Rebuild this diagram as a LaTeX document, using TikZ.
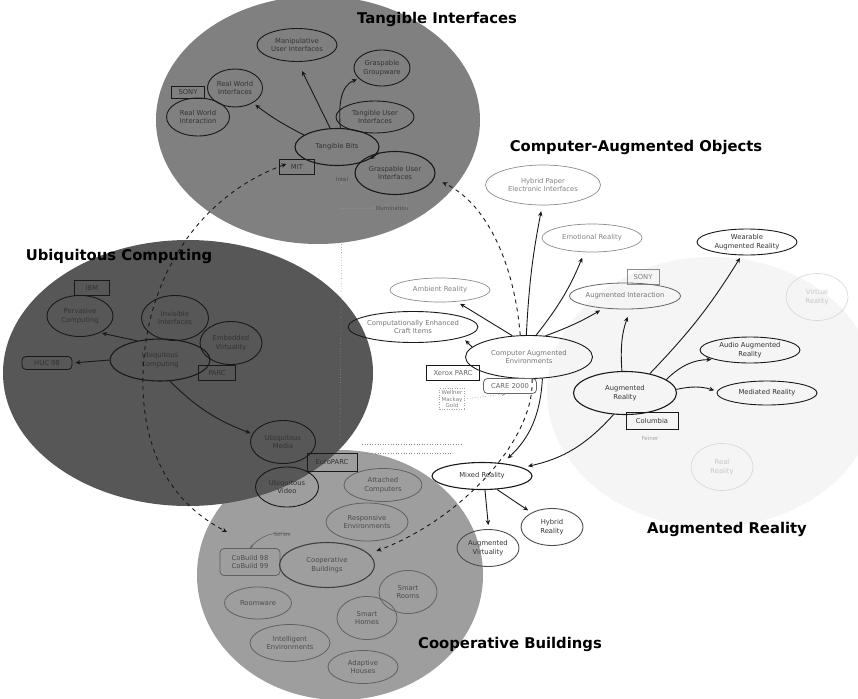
\documentclass[tikz,border=0pt]{standalone}
\usepackage{fontspec}
\setmainfont{DejaVu Sans}
\usetikzlibrary{shapes.geometric,arrows.meta}

\begin{document}
\begin{tikzpicture}[x=1pt,y=-1pt,
  region/.style={ellipse, draw=none, inner sep=0pt},
  heading/.style={font=\fontsize{14.8}{16}\selectfont\bfseries, text=black, inner sep=0pt},
  oval/.style={ellipse, draw=black!90, line width=0.9pt, inner sep=0pt, align=center,
    font=\fontsize{6.8}{8.4}\selectfont, text=black!80},
  faintoval/.style={oval, draw=black!45, text=black!50, line width=0.7pt},
  ghostoval/.style={oval, draw=black!16, text=black!22, line width=0.6pt},
  coopoval/.style={oval, draw=black!62, text=black!70, line width=0.8pt},
  orgbox/.style={rectangle, draw=black!90, line width=0.8pt, inner sep=0pt, align=center,
    font=\fontsize{6.8}{8.4}\selectfont, text=black!80},
  orground/.style={orgbox, rounded corners=4pt},
  tiny/.style={inner sep=0pt, align=center, font=\fontsize{5.5}{6.4}\selectfont, text=black!50},
  arr/.style={-{Stealth[length=5pt,width=4.5pt]}, line width=0.9pt, black!90},
  dasharr/.style={arr, dashed, dash pattern=on 4pt off 4pt},
  dotline/.style={black!45, line width=0.6pt, dotted},
  dotarr/.style={dotline, -{Stealth[length=3.5pt,width=3pt]}}
]
\useasboundingbox (0,0) rectangle (858,698);

% ---------- coloured domains ----------
\node[region, fill=black!4, minimum width=330, minimum height=270] (arC) at (712,392) {};
\node[region, fill=black!50, minimum width=324, minimum height=248] (tangC) at (318,120) {};
\node[region, fill=black!38, minimum width=286, minimum height=250] (coopC) at (340,575) {};
\node[region, fill=black!66, minimum width=370, minimum height=266] (ubiC) at (188,373) {};

% ---------- domain titles ----------
\node[heading] (tTang) at (437,19) {Tangible Interfaces};
\node[heading] (tCAO) at (636,147) {Computer-Augmented Objects};
\node[heading] (tUbi) at (119,256) {Ubiquitous Computing};
\node[heading] (tAR) at (727,529) {Augmented Reality};
\node[heading] (tCoop) at (510,644) {Cooperative Buildings};

% ---------- Tangible Interfaces ----------
\node[oval, minimum width=80, minimum height=33] (mui) at (297,45) {Manipulative\\User Interfaces};
\node[oval, minimum width=56, minimum height=36] (gg) at (382,68) {Graspable\\Groupware};
\node[oval, minimum width=55, minimum height=38] (rwf) at (235,88) {Real World\\Interfaces};
\node[orgbox, minimum width=33, minimum height=12] (sony1) at (188,92) {SONY};
\node[oval, minimum width=63, minimum height=38] (rwi) at (198,117) {Real World\\Interaction};
\node[oval, minimum width=78, minimum height=32] (tui) at (375,117) {Tangible User\\Interfaces};
\node[oval, line width=1.1pt, minimum width=84, minimum height=37] (tb) at (337,147) {Tangible Bits};
\node[orgbox, minimum width=35, minimum height=15] (mit) at (297,167) {MIT};
\node[oval, line width=1.1pt, minimum width=80, minimum height=43] (gui) at (395,173) {Graspable User\\Interfaces};
\node[tiny, text=black!70] (intel) at (342,179) {Intel};
\node[tiny, text=black!70] (illum) at (392,208) {Illumination};

\draw[arr, shorten >=3pt] (tb.160) to[bend left=5] (rwf.-40);
\draw[arr, shorten >=10pt] (tb.110) -- (mui.-88);
\draw[arr, shorten >=2pt] (tb.80) to[out=95, in=200] (gg.205);
\draw[arr] (gui.128) -- (tb.-20);

\coordinate (dotfoot) at (340,440);
\coordinate (dotmid) at (340,208);
\draw[dotarr] (dotfoot) -- (intel.south);
\draw[dotarr] (dotmid) -- (illum.west);
\draw[dotline] (gui.-62) |- (illum.east);

% ---------- Ubiquitous Computing ----------
\node[orgbox, minimum width=35, minimum height=15] (ibm) at (92,288) {IBM};
\node[oval, minimum width=66, minimum height=41] (pc) at (80,316) {Pervasive\\Computing};
\node[oval, minimum width=67, minimum height=45] (ii) at (175,318) {Invisible\\Interfaces};
\node[oval, minimum width=62, minimum height=43] (ev) at (231,343) {Embedded\\Virtuality};
\node[oval, line width=1.1pt, minimum width=100, minimum height=42] (uc) at (160,360) {Ubiquitous\\Computing};
\node[orgbox, minimum width=37, minimum height=15] (parc) at (217,373) {PARC};
\node[orground, minimum width=50, minimum height=13] (huc) at (47,363) {HUC 98};
\node[oval, minimum width=65, minimum height=43] (um) at (283,442) {Ubiquitous\\Media};
\node[oval, minimum width=63, minimum height=40] (uv) at (287,487) {Ubiquitous\\Video};
\node[orgbox, minimum width=50, minimum height=18] (epc) at (332,462) {EuroPARC};

\draw[arr, shorten >=2pt] (uc.140) -- (pc.-40);
\draw[arr, shorten >=3pt] (uc.west) -- (huc.east);
\draw[arr, shorten >=2pt] (uc.-65) to[bend right=12] (um.165);

\coordinate (dl1a) at (362,444);
\coordinate (dl1b) at (462,444);
\coordinate (dl2a) at (362,453);
\coordinate (dl2b) at (452,453);
\draw[dotline] (dl1a) -- (dl1b);
\draw[dotline] (dl2a) -- (dl2b);

% ---------- Cooperative Buildings ----------
\node[coopoval, minimum width=78, minimum height=33] (ac) at (383,485) {Attached\\Computers};
\node[coopoval, minimum width=82, minimum height=38] (re) at (367,522) {Responsive\\Environments};
\node[orground, draw=black!62, text=black!70, minimum width=60, minimum height=27] (cob) at (250,562) {CoBuild 98\\CoBuild 99};
\node[oval, draw=black!75, text=black!70, line width=1.1pt, minimum width=95, minimum height=45] (cbn) at (327,565) {Cooperative\\Buildings};
\node[coopoval, minimum width=67, minimum height=32] (rw) at (258,603) {Roomware};
\node[coopoval, minimum width=80, minimum height=37] (ie) at (290,643) {Intelligent\\Environments};
\node[coopoval, minimum width=58, minimum height=43] (sr) at (408,592) {Smart\\Rooms};
\node[coopoval, minimum width=60, minimum height=43] (sh) at (367,618) {Smart\\Homes};
\node[coopoval, minimum width=70, minimum height=33] (ah) at (363,667) {Adaptive\\Houses};
\node[tiny, text=black!62] (series) at (282,534) {Series};
\draw[-{Stealth[length=3.5pt,width=3pt]}, black!62, line width=0.6pt] (series.east) to[bend right=30] (cob.north);

% ---------- Computer-Augmented Objects ----------
\node[faintoval, minimum width=115, minimum height=40] (hpe) at (543,185) {Hybrid Paper\\Electronic Interfaces};
\node[faintoval, minimum width=100, minimum height=28] (emo) at (592,238) {Emotional Reality};
\node[faintoval, minimum width=100, minimum height=24] (amb) at (440,290) {Ambient Reality};
\node[orgbox, draw=black!45, text=black!50, minimum width=32, minimum height=15] (sony2) at (643,277) {SONY};
\node[oval, draw=black!60, text=black!55, line width=0.8pt, minimum width=96, minimum height=26] (augint) at (625,296) {Augmented Interaction};
\node[oval, minimum width=124, minimum height=31, text=black!55] (ceci) at (413,327) {Computationally Enhanced\\Craft Items};
\node[oval, minimum width=127, minimum height=43, text=black!55] (cae) at (529,357) {Computer Augmented\\Environments};
\node[orgbox, text=black!60, minimum width=53, minimum height=15] (xparc) at (453,373) {Xerox PARC};
\node[orground, draw=black!60, text=black!60, minimum width=53, minimum height=15] (care) at (510,386) {CARE 2000};
\node[tiny, draw=black!35, dotted, inner sep=2pt] (well) at (452,399) {Wellner\\Mackay\\Gold};

\draw[arr, shorten >=4pt] (cae.170) -- (ceci.-12);
\draw[arr, shorten >=4pt] (cae.128) -- (amb.-35);
\draw[arr, shorten >=6pt] (cae.97) to[bend left=4] (hpe.-92);
\draw[arr, shorten >=6pt] (cae.72) to[bend right=8] (emo.-118);
\draw[arr, shorten >=4pt] (cae.52) to[bend right=5] (augint.-150);
\draw[dasharr, shorten >=9pt] (cae.112) .. controls (515,270) and (490,205) .. (gui.-8);
\draw[dotarr] (well.east) -- (care.-120);

% ---------- Augmented Reality ----------
\node[ghostoval, minimum width=62, minimum height=47] (vr) at (817,297) {Virtual\\Reality};
\node[ghostoval, minimum width=62, minimum height=47] (rr) at (722,467) {Real\\Reality};
\node[oval, minimum width=100, minimum height=26] (wear) at (747,242) {Wearable\\Augmented Reality};
\node[oval, minimum width=100, minimum height=26] (audio) at (750,350) {Audio Augmented\\Reality};
\node[oval, minimum width=100, minimum height=24] (med) at (767,393) {Mediated Reality};
\node[oval, line width=1.1pt, minimum width=103, minimum height=43] (ar) at (625,393) {Augmented\\Reality};
\node[orgbox, minimum width=52, minimum height=17] (col) at (652,421) {Columbia};
\node[tiny, text=black!35] (feiner) at (650,438) {Feiner};

\draw[arr, shorten >=3pt] (ar.38) to[bend right=6] (wear.-112);
\draw[arr, shorten >=3pt] (ar.18) to[bend left=22] (audio.195);
\draw[arr, shorten >=3pt] (ar.4) to[bend left=15] (med.178);
\draw[arr, shorten >=8pt] (ar.98) to[bend left=12] (augint.-68);

% ---------- Mixed Reality ----------
\node[oval, line width=1.1pt, minimum width=100, minimum height=27] (mr) at (482,476) {Mixed Reality};
\node[oval, draw=black!70, minimum width=62, minimum height=37] (hr) at (552,527) {Hybrid\\Reality};
\node[oval, draw=black!70, minimum width=62, minimum height=37] (av) at (488,548) {Augmented\\Virtuality};

\draw[arr, shorten >=7pt] (cae.-58) to[bend left=22] (mr.32);
\draw[arr, shorten >=6pt] (ar.-118) to[bend left=18] (mr.12);
\draw[arr, shorten >=4pt] (mr.-78) -- (av.88);
\draw[arr, shorten >=4pt] (mr.-42) -- (hr.145);
\draw[dasharr, shorten >=8pt] (cae.-82) .. controls (535,440) and (460,520) .. (cbn.15);

% ---------- long dashed link: Tangible Bits to Cooperative Buildings ----------
\coordinate (coopIn) at (227,532);
\draw[dasharr, {Stealth[length=5pt,width=4.5pt]}-{Stealth[length=5pt,width=4.5pt]}, shorten <=17pt]
  (tb.198) .. controls (200,195) and (140,280) .. (143,390)
           .. controls (146,470) and (185,510) .. (coopIn);
\end{tikzpicture}
\end{document}
